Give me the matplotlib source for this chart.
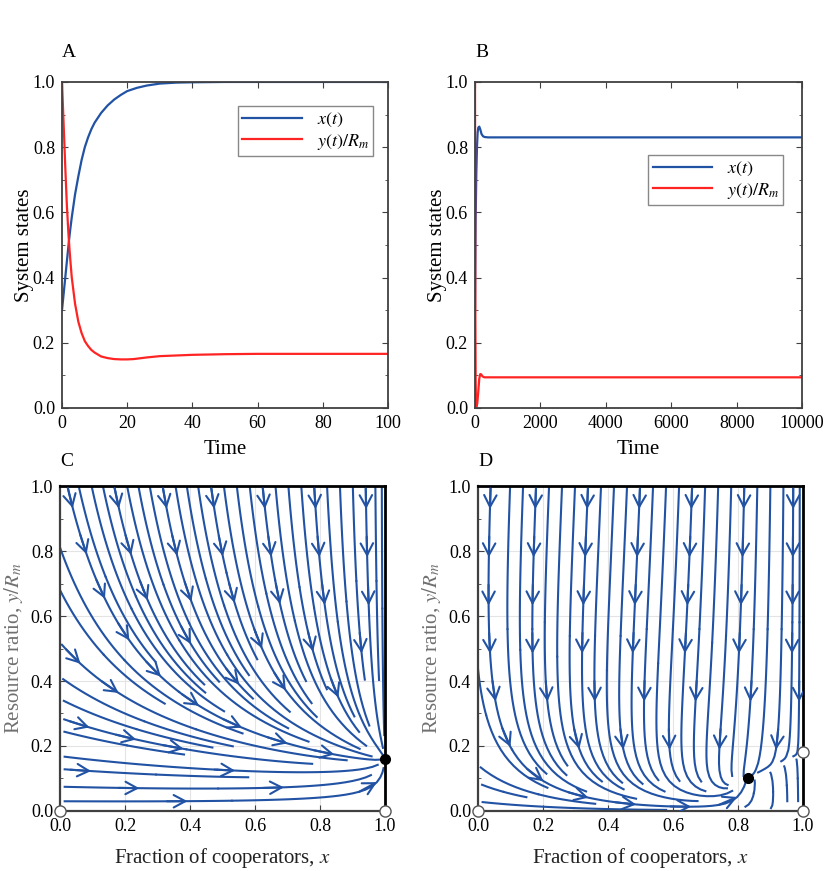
import matplotlib
matplotlib.use("Agg")
import matplotlib.pyplot as plt
import numpy as np
from matplotlib.patches import FancyArrowPatch
from matplotlib.ticker import MultipleLocator, FormatStrFormatter

plt.rcParams['font.family'] = ['Liberation Serif', 'DejaVu Serif']
plt.rcParams['mathtext.fontset'] = 'stix'

# panel A: time series
t_a_x = [0, 0.5, 1, 1.5, 2, 2.5, 3, 4, 5, 6, 7, 8, 9, 10, 12, 14, 16, 18, 20,
         23, 26, 30, 35, 40, 50, 60, 100]
x_a = [0.30, 0.35, 0.40, 0.45, 0.50, 0.545, 0.585, 0.655, 0.71, 0.76, 0.80,
       0.83, 0.855, 0.875, 0.905, 0.928, 0.946, 0.960, 0.972, 0.982, 0.989,
       0.995, 0.998, 0.999, 1.0, 1.0, 1.0]
t_a_y = [0, 0.5, 1, 1.5, 2, 2.5, 3, 4, 5, 6, 7, 8, 9, 10, 12, 14, 16, 18, 20,
         22, 26, 30, 40, 50, 60, 100]
y_a = [1.0, 0.87, 0.74, 0.62, 0.53, 0.46, 0.40, 0.32, 0.265, 0.23, 0.205,
       0.19, 0.178, 0.17, 0.158, 0.153, 0.150, 0.149, 0.149, 0.150, 0.155,
       0.159, 0.163, 0.165, 0.166, 0.166]

# panel B
t_b_x = [0, 10, 20, 40, 60, 80, 100, 130, 160, 200, 250, 300, 400, 1000, 10000]
x_b = [0.30, 0.45, 0.58, 0.72, 0.80, 0.845, 0.86, 0.863, 0.855, 0.84, 0.833,
       0.831, 0.830, 0.830, 0.830]
t_b_y = [0, 5, 10, 20, 30, 50, 70, 100, 130, 160, 190, 220, 260, 300, 400, 10000]
y_b = [1.0, 0.55, 0.30, 0.08, 0.02, 0.005, 0.015, 0.05, 0.09, 0.104, 0.103,
       0.098, 0.095, 0.094, 0.094, 0.094]

# fixed points for the phase planes
stable_c = [(1.0, 0.16)]
unstable_c = [(0.0, 0.0), (1.0, 0.0)]
stable_d = [(0.83, 0.10)]
unstable_d = [(0.0, 0.0), (1.0, 0.0), (1.0, 0.18)]

# where streamlines enter the phase planes
seeds_c_top = [0.015, 0.05, 0.09, 0.125, 0.16, 0.2, 0.235, 0.27, 0.31, 0.35,
               0.385, 0.42, 0.46, 0.5, 0.54, 0.58, 0.62, 0.66, 0.7, 0.74,
               0.78, 0.82, 0.86, 0.9, 0.94, 0.97, 0.99]
seeds_c_left = [0.84, 0.70, 0.64, 0.53, 0.42, 0.35, 0.29, 0.25, 0.17, 0.13,
                0.075, 0.03]
seeds_d_top = [0.04, 0.1, 0.14, 0.18, 0.22, 0.26, 0.3, 0.34, 0.38, 0.42, 0.46,
               0.5, 0.54, 0.58, 0.62, 0.66, 0.7, 0.74, 0.78, 0.82, 0.86, 0.9,
               0.94, 0.97, 0.99]
seeds_d_left = [0.62, 0.38, 0.15, 0.09, 0.03]
seeds_d_bottom = [0.6, 0.8, 0.9, 0.95, 0.985]

blue = '#2152a3'
red = '#ff2424'
spine_gray = '#404040'


def field_c(x, y):
    u = (1 - x)
    v = 4.3 * y * (0.16 * x - y)
    return u, v


def field_d(x, y):
    yc = 0.7 - 0.85 * x + 0.15 * x ** 2
    g = 0.18 - 0.47 * (1 - x)
    u = (1 - x) * (yc - y)
    v = 8.0 * y * (g - y)
    return u, v


def split_lines(lc):
    segs = [np.asarray(s) for s in lc.get_segments()]
    if any(len(s) > 2 for s in segs):
        return segs
    # older layout: rebuild whole streamlines from two-point segments
    out = []
    cur = None
    for s in segs:
        if cur is not None and np.allclose(s[0], cur[-1]):
            cur.append(s[1])
        else:
            if cur is not None:
                out.append(np.array(cur))
            cur = [s[0], s[1]]
    if cur is not None:
        out.append(np.array(cur))
    return out


def add_arrows(ax, lines, step=0.15, offset=0.07, dmin=0.13):
    placed = []
    for pts in lines:
        d = np.hypot(np.diff(pts[:, 0]), np.diff(pts[:, 1]))
        s = np.concatenate([[0], np.cumsum(d)])
        if s[-1] < 0.06:
            continue
        pos = offset
        while pos < s[-1] - 0.01:
            i = int(np.searchsorted(s, pos))
            i = max(1, min(i, len(pts) - 1))
            p = pts[i]
            inside = 0.01 < p[0] < 0.99 and 0.01 < p[1] < 0.99
            if inside and all(np.hypot(p[0] - q[0], p[1] - q[1]) > dmin
                              for q in placed):
                j = max(0, i - 3)
                ax.add_patch(FancyArrowPatch(
                    tuple(pts[j]), tuple(p),
                    arrowstyle='->,head_length=0.6,head_width=0.32',
                    mutation_scale=14, color=blue, lw=1.5, shrinkA=0,
                    shrinkB=0, zorder=3))
                placed.append(p)
            pos += step


fig = plt.figure(figsize=(8.3, 8.71), dpi=100)
axA = fig.add_axes([0.0747, 0.5316, 0.3928, 0.3743])
axB = fig.add_axes([0.5723, 0.5316, 0.394, 0.3743])
axC = fig.add_axes([0.0723, 0.0689, 0.3916, 0.3731])
axD = fig.add_axes([0.5759, 0.0689, 0.3916, 0.3731])

for ax, tx, xs, ty, ys, xmax, step, anchor in [
        (axA, t_a_x, x_a, t_a_y, y_a, 100, 20, (0.955, 0.925)),
        (axB, t_b_x, x_b, t_b_y, y_b, 10000, 2000, (0.943, 0.775))]:
    ax.plot(tx, xs, color=blue, lw=1.6, label='$x(t)$')
    ax.plot(ty, ys, color=red, lw=1.6, label='$y(t)/R_m$')
    ax.set_xlim(0, xmax)
    ax.set_ylim(0, 1)
    ax.xaxis.set_major_locator(MultipleLocator(step))
    ax.yaxis.set_major_locator(MultipleLocator(0.2))
    ax.yaxis.set_minor_locator(MultipleLocator(0.1))
    ax.yaxis.set_major_formatter(FormatStrFormatter('%.1f'))
    ax.tick_params(which='both', direction='in', top=True, right=True,
                   labelsize=13, color=spine_gray, pad=5)
    ax.tick_params(which='major', length=4)
    ax.tick_params(which='minor', length=2.5)
    for s in ax.spines.values():
        s.set_color(spine_gray)
        s.set_linewidth(1.3)
    ax.set_xlabel('Time', fontsize=15, labelpad=6)
    ax.set_ylabel('System states', fontsize=15, labelpad=-1)
    leg = ax.legend(loc='upper right', bbox_to_anchor=anchor, fontsize=13,
                    fancybox=False, framealpha=1, edgecolor='#888888',
                    handlelength=3.3, borderpad=0.25, labelspacing=0.15,
                    borderaxespad=0)
    leg.get_frame().set_linewidth(1.0)

axA.text(0.0, 1.09, 'A', transform=axA.transAxes, fontsize=14, va='center')
axB.text(0.0, 1.09, 'B', transform=axB.transAxes, fontsize=14, va='center')

# the vector field grid runs a little past the axes so that seeds on the
# frame give lines that start right at the edge
gx = np.linspace(-0.04, 1.04, 131)
gy = np.linspace(-0.04, 1.04, 131)
X, Y = np.meshgrid(gx, gy)

seeds_c = ([(x, 1.035) for x in seeds_c_top] +
           [(-0.01, y) for y in seeds_c_left])
seeds_d = ([(x, 1.035) for x in seeds_d_top] +
           [(-0.01, y) for y in seeds_d_left] +
           [(x, 0.006) for x in seeds_d_bottom])

for ax, field, stab, unst, letter, seeds in [
        (axC, field_c, stable_c, unstable_c, 'C', seeds_c),
        (axD, field_d, stable_d, unstable_d, 'D', seeds_d)]:
    U, V = field(X, Y)
    sp = ax.streamplot(X, Y, U, V, density=1.7, color=blue, linewidth=1.5,
                       arrowstyle='-', arrowsize=0.01,
                       start_points=np.array(seeds),
                       integration_direction='forward')
    add_arrows(ax, split_lines(sp.lines))
    ax.set_xlim(0, 1)
    ax.set_ylim(0, 1)
    ax.grid(True, color='#e4e4e4', lw=0.8)
    ax.set_axisbelow(True)
    ax.xaxis.set_major_locator(MultipleLocator(0.2))
    ax.yaxis.set_major_locator(MultipleLocator(0.2))
    ax.yaxis.set_minor_locator(MultipleLocator(0.1))
    ax.xaxis.set_major_formatter(FormatStrFormatter('%.1f'))
    ax.yaxis.set_major_formatter(FormatStrFormatter('%.1f'))
    ax.tick_params(which='both', direction='in', labelsize=13,
                   color=spine_gray, pad=5)
    ax.tick_params(which='major', length=4)
    ax.tick_params(which='minor', length=2.5)
    ax.spines['left'].set_color(spine_gray)
    ax.spines['bottom'].set_color(spine_gray)
    ax.spines['left'].set_linewidth(1.6)
    ax.spines['bottom'].set_linewidth(1.6)
    ax.spines['top'].set_color('black')
    ax.spines['right'].set_color('black')
    ax.spines['top'].set_linewidth(2.0)
    ax.spines['right'].set_linewidth(2.0)
    for px, py in stab:
        ax.plot(px, py, 'o', color='black', ms=7, clip_on=False, zorder=5)
    for px, py in unst:
        ax.plot(px, py, 'o', mfc='white', mec='#555555', mew=1.0, ms=8,
                clip_on=False, zorder=5)
    ax.set_xlabel('Fraction of cooperators, $x$', fontsize=15, color='#222222',
                  labelpad=8)
    ax.set_ylabel('Resource ratio, $y/R_m$', fontsize=15, color='#707070',
                  labelpad=4)
    ax.text(0.0, 1.074, letter, transform=ax.transAxes, fontsize=14,
            va='center')

fig.savefig('out.png', dpi=100)
